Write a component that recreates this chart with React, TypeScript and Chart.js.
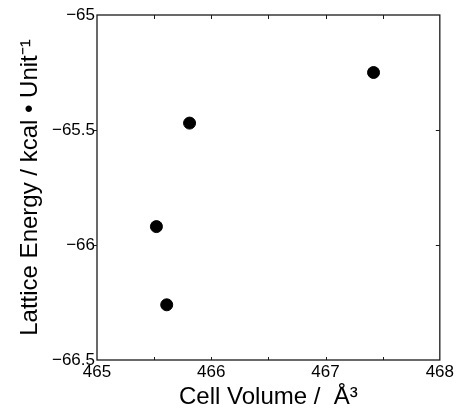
import React, { useEffect, useRef } from "react";
import { Chart, registerables } from "chart.js";

Chart.register(...registerables);

const cellVolume = [465.52, 465.61, 465.81, 467.42];
const latticeEnergy = [-65.92, -66.26, -65.47, -65.25];
const xInnerTicks = [465.5, 466, 466.5, 467, 467.5];
const yInnerTicks = [-65.5, -66];
const xTitle = "Cell Volume /  Å³";
const yTitle = "Lattice Energy / kcal • Unit⁻¹";

const FONT = "'Liberation Sans', Arial, Helvetica, sans-serif";

const framePlugin = {
  id: "frame",
  afterDraw(chart: any) {
    const { ctx, chartArea, scales } = chart;
    const { left, right, top, bottom } = chartArea;
    const x = scales.x;
    const y = scales.y;
    ctx.save();
    ctx.strokeStyle = "#1a1a1a";
    ctx.lineWidth = 1.3;
    ctx.strokeRect(left, top, right - left, bottom - top);
    ctx.beginPath();
    for (const v of xInnerTicks) {
      const px = Math.round(x.getPixelForValue(v)) + 0.5;
      ctx.moveTo(px, bottom);
      ctx.lineTo(px, bottom - 3);
      ctx.moveTo(px, top);
      ctx.lineTo(px, top + 4);
    }
    for (const v of yInnerTicks) {
      const py = Math.round(y.getPixelForValue(v)) + 0.5;
      ctx.moveTo(right, py);
      ctx.lineTo(right - 4, py);
      ctx.moveTo(left, py);
      ctx.lineTo(left - 3, py);
    }
    ctx.lineWidth = 1;
    ctx.stroke();
    ctx.restore();
  },
};

export default function App() {
  const ref = useRef<HTMLCanvasElement | null>(null);
  useEffect(() => {
    if (!ref.current) return;
    const chart = new Chart(ref.current, {
      type: "scatter",
      data: {
        datasets: [
          {
            data: cellVolume.map((v, i) => ({ x: v, y: latticeEnergy[i] })),
            backgroundColor: "#000",
            borderColor: "#000",
            pointRadius: 6,
            pointHoverRadius: 6,
          },
        ],
      },
      options: {
        animation: false,
        responsive: false,
        layout: { padding: { top: 15, right: 15, left: 0, bottom: 0 } },
        plugins: { legend: { display: false }, tooltip: { enabled: false } },
        scales: {
          x: {
            type: "linear",
            min: 465,
            max: 468,
            grid: { display: false, drawTicks: false },
            border: { display: false },
            ticks: {
              stepSize: 1,
              color: "#000",
              padding: 2,
              font: { family: FONT, size: 17 },
              maxRotation: 0,
            },
            title: {
              display: true,
              text: xTitle,
              color: "#000",
              font: { family: FONT, size: 24 },
              padding: { top: 0, bottom: 0 },
            },
            afterFit(scale: any) {
              scale.height = 52;
            },
          },
          y: {
            type: "linear",
            min: -66.5,
            max: -65,
            grid: { display: false, drawTicks: false },
            border: { display: false },
            ticks: {
              stepSize: 0.5,
              color: "#000",
              padding: 2,
              font: { family: FONT, size: 17 },
              callback: (v: any) => String(v).replace("-", "\u2212"),
            },
            title: {
              display: true,
              text: yTitle,
              color: "#000",
              font: { family: FONT, size: 24 },
              padding: { top: 16, bottom: 0 },
            },
            afterFit(scale: any) {
              scale.width = 97;
            },
          },
        },
      },
      plugins: [framePlugin],
    });
    return () => chart.destroy();
  }, []);
  return (
    <div style={{ position: "fixed", left: 0, top: 0, width: 456, height: 412, background: "#fff" }}>
      <canvas ref={ref} width={456} height={412} />
    </div>
  );
}
